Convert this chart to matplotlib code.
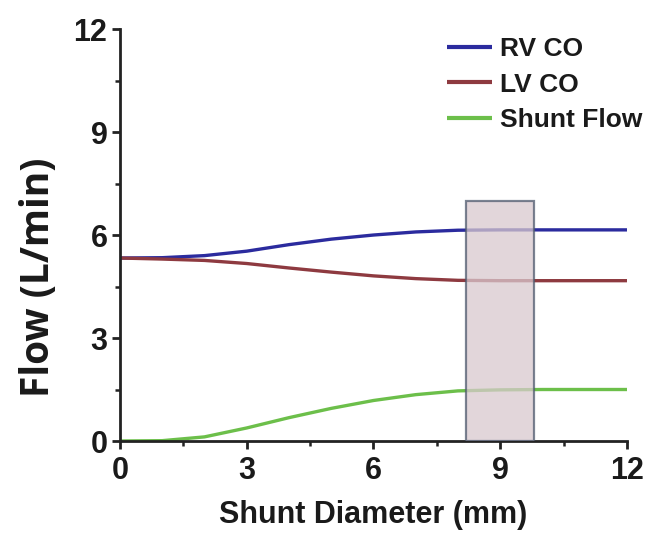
import matplotlib
matplotlib.use("Agg")
import matplotlib.pyplot as plt
from matplotlib.patches import Rectangle
from matplotlib.ticker import MultipleLocator

plt.rcParams['font.family'] = ['Liberation Sans', 'DejaVu Sans']

# Data
diameter = [0, 1, 2, 3, 4, 5, 6, 7, 8, 9, 10, 11, 12]
rv_co = [5.33, 5.34, 5.40, 5.53, 5.72, 5.88, 6.00, 6.09, 6.14, 6.15, 6.15, 6.15, 6.15]
lv_co = [5.33, 5.30, 5.26, 5.17, 5.04, 4.92, 4.81, 4.73, 4.68, 4.67, 4.67, 4.67, 4.67]
shunt = [0.00, 0.01, 0.12, 0.38, 0.68, 0.95, 1.18, 1.35, 1.46, 1.49, 1.50, 1.50, 1.50]
series_names = ["RV CO", "LV CO", "Shunt Flow"]
highlight_x = [8.2, 9.8]
highlight_top = 7.0
x_ticks = [0, 3, 6, 9, 12]
y_ticks = [0, 3, 6, 9, 12]

fig = plt.figure(figsize=(6.5, 5.35), dpi=100)
ax = fig.add_axes([0.1846, 0.1757, 0.78, 0.77])

colors = ["#2b2b9e", "#8e3a40", "#6cbf4a"]
for y, c, name in zip([rv_co, lv_co, shunt], colors, series_names):
    ax.plot(diameter, y, color=c, lw=2.4, label=name, solid_capstyle='butt')

rect = Rectangle((highlight_x[0], 0), highlight_x[1] - highlight_x[0], highlight_top,
                 facecolor="#d9c9ce", edgecolor="#4f5a6e", lw=1.6, alpha=0.75, zorder=3)
ax.add_patch(rect)

ax.set_xlim(0, 12)
ax.set_ylim(0, 12)
ax.set_xticks(x_ticks)
ax.set_yticks(y_ticks)
ax.xaxis.set_minor_locator(MultipleLocator(1.5))
ax.yaxis.set_minor_locator(MultipleLocator(1.5))
for s in ["top", "right"]:
    ax.spines[s].set_visible(False)
for s in ["left", "bottom"]:
    ax.spines[s].set_linewidth(2.0)
    ax.spines[s].set_color("#222222")
ax.tick_params(which='major', direction='out', length=6, width=2.0, color="#222222",
               labelsize=22)
ax.tick_params(axis='x', which='major', pad=5)
ax.tick_params(axis='y', which='major', pad=3)
ax.tick_params(which='minor', direction='out', length=3.5, width=1.8, color="#222222")
for lab in ax.get_xticklabels() + ax.get_yticklabels():
    lab.set_fontweight('bold')
    lab.set_color("#1a1a1a")

ax.set_xlabel("Shunt Diameter (mm)", fontsize=22, fontweight='bold', color="#1a1a1a", labelpad=10)
ax.set_ylabel("Flow (L/min)", fontsize=28, fontweight='bold', color="#1a1a1a",
              family=['Open Sans', 'Liberation Sans', 'DejaVu Sans'])
ax.yaxis.set_label_coords(-0.122, 0.398)

leg = ax.legend(loc='upper left', bbox_to_anchor=(447 / 650, 1 - 37 / 535),
                bbox_transform=fig.transFigure, frameon=False,
                prop={'weight': 'bold', 'size': 19}, handlelength=1.7,
                handletextpad=0.3, labelspacing=0.44, borderpad=0, borderaxespad=0)
for t in leg.get_texts():
    t.set_color("#1a1a1a")
for h in leg.get_lines():
    h.set_linewidth(3)

fig.savefig("out.png", dpi=100)
